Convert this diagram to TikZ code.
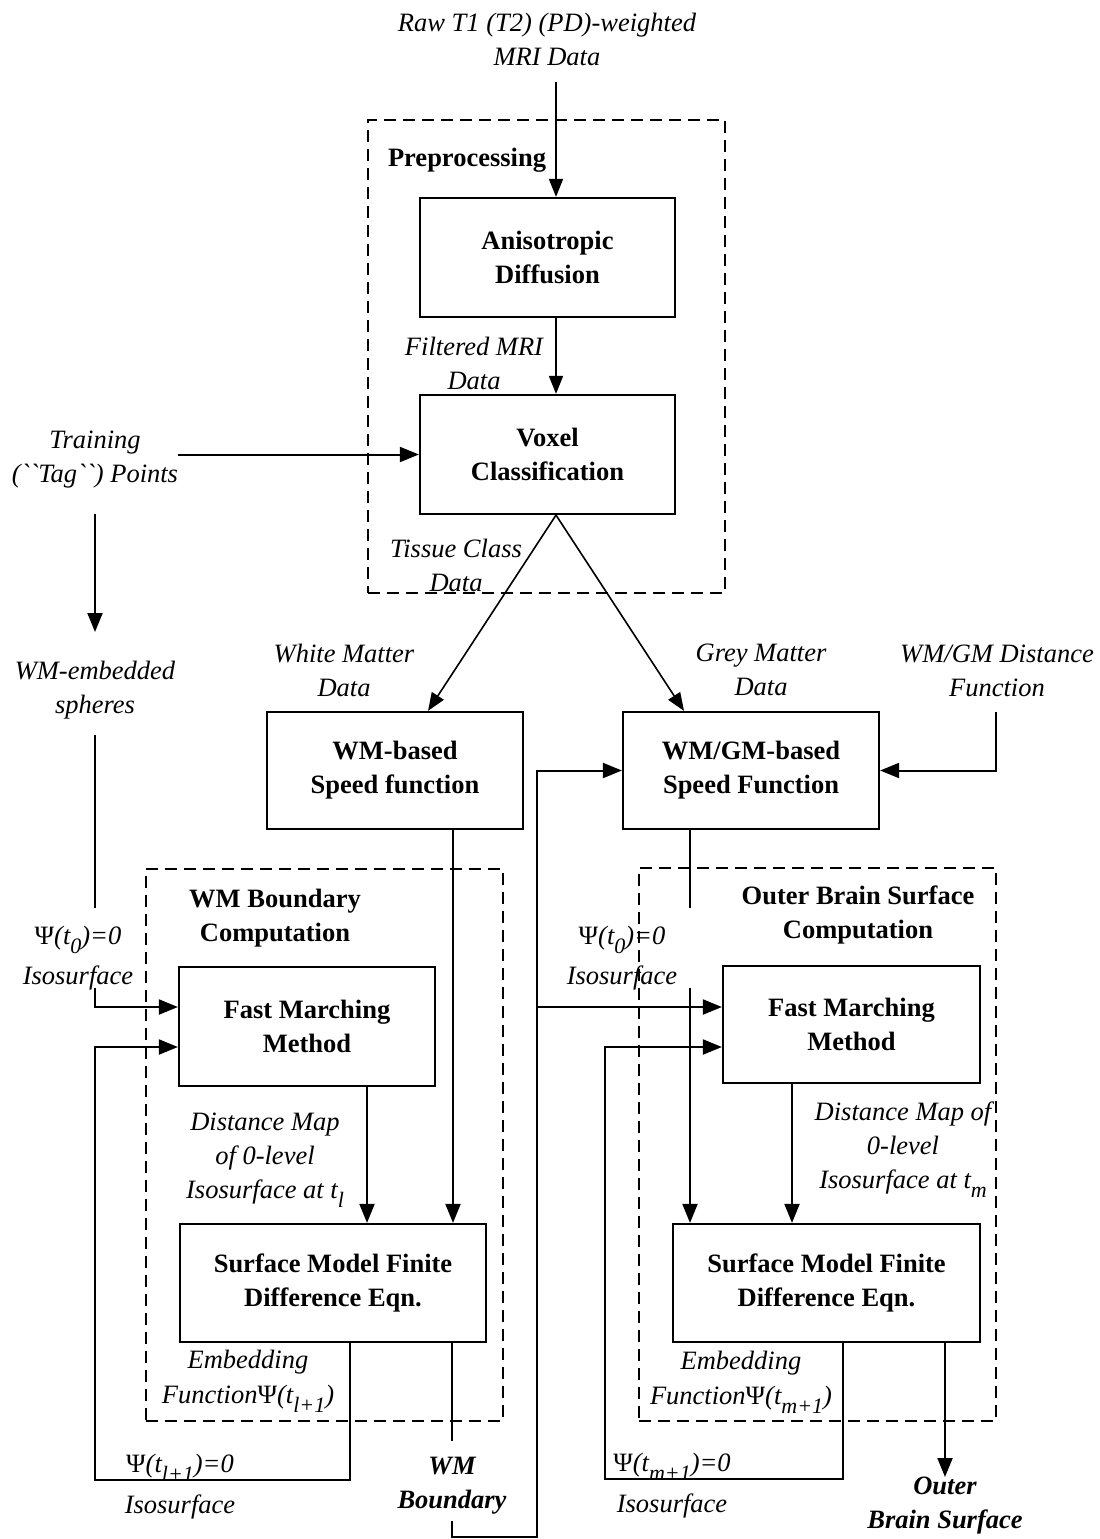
\documentclass[tikz,border=0pt]{standalone}
\usepackage{fontspec}
\setmainfont{Liberation Serif}
\usetikzlibrary{arrows.meta,calc}
\newcommand\lblfont{\fontsize{26.5}{34}\selectfont}
\newcommand\sbs[1]{\raisebox{-9pt}{\fontsize{22}{22}\selectfont #1}}
\begin{document}
\begin{tikzpicture}[x=1pt,y=-1pt,
  box/.style={draw, line width=2.2pt, font=\lblfont\bfseries, align=center, inner sep=0pt},
  lbl/.style={font=\lblfont\itshape, align=center, inner sep=0pt},
  outlbl/.style={font=\lblfont\bfseries\itshape, align=center, inner sep=0pt},
  ttl/.style={font=\lblfont\bfseries, align=center, inner sep=0pt},
  grp/.style={draw, line width=1.8pt, dash pattern=on 12pt off 7pt, inner sep=0pt},
  ln/.style={line width=2pt},
  thinln/.style={line width=1.5pt},
  arr/.style={line width=2pt, -{Triangle[length=19pt,width=15pt]}},
  thinarr/.style={line width=1.6pt, -{Triangle[length=18pt,width=14pt]}}
]
\fill[white] (0,0) rectangle (1100,1539);
\useasboundingbox (0,0) rectangle (1100,1539);

% groups
\node[grp, minimum width=357pt, minimum height=473pt] (prep) at (546.5,356.5) {};
\node[grp, minimum width=357pt, minimum height=552pt] (wmgrp) at (324.5,1145) {};
\node[grp, minimum width=357pt, minimum height=553pt] (obsgrp) at (817.5,1144.5) {};

% titles
\node[ttl] (preptl) at (467,160) {Preprocessing};
\node[ttl] (wmtl) at (275,918) {WM Boundary\\Computation};
\node[ttl] (obstl) at (858,915) {Outer Brain Surface\\Computation};

% boxes
\node[box, minimum width=255pt, minimum height=119pt] (aniso) at (547.5,257.5) {Anisotropic\\Diffusion};
\node[box, minimum width=255pt, minimum height=119pt] (voxel) at (547.5,454.5) {Voxel\\Classification};
\node[box, minimum width=256pt, minimum height=117pt] (wmsp) at (395,770.5) {WM-based\\Speed function};
\node[box, minimum width=256pt, minimum height=117pt] (gmsp) at (751,770.5) {WM/GM-based\\Speed Function};
\node[box, minimum width=256pt, minimum height=119pt] (fmmL) at (307,1026.5) {Fast Marching\\Method};
\node[box, minimum width=306pt, minimum height=118pt] (smL) at (333,1283) {Surface Model Finite\\Difference Eqn.};
\node[box, minimum width=257pt, minimum height=117pt] (fmmR) at (851.5,1024.5) {Fast Marching\\Method};
\node[box, minimum width=307pt, minimum height=118pt] (smR) at (826.5,1283) {Surface Model Finite\\Difference Eqn.};

% labels
\node[lbl] (raw) at (547,39.5) {Raw T1 (T2) (PD)-weighted\\MRI Data};
\node[lbl] (filt) at (474,363) {Filtered MRI\\Data};
\node[lbl] (train) at (95,459.5) {Training\\(\textasciigrave\textasciigrave Tag\textasciigrave\textasciigrave) Points};
\node[lbl] (tissue) at (456,565.5) {Tissue Class\\Data};
\node[lbl] (wmd) at (344,670) {White Matter\\Data};
\node[lbl] (gmd) at (761,670) {Grey Matter\\Data};
\node[lbl] (dist) at (997,670.5) {WM/GM Distance\\Function};
\node[lbl] (wmemb) at (95,690) {WM-embedded\\spheres};
\node[lbl] (psiL) at (78,958) {{\upshape Ψ}(t\sbs{0})=0\\[6pt]Isosurface};
\node[lbl] (psiR) at (622,958) {{\upshape Ψ}(t\sbs{0})=0\\[6pt]Isosurface};
\node[lbl] (distL) at (265,1160) {Distance Map\\of 0-level\\Isosurface at t\sbs{l}};
\node[lbl] (distR) at (903,1150) {Distance Map of\\0-level\\Isosurface at t\sbs{m}};
\node[lbl] (embL) at (248,1381) {Embedding\\[1pt]Function{\upshape Ψ}(t\sbs{l+1})};
\node[lbl] (embR) at (741,1382) {Embedding\\[1pt]Function{\upshape Ψ}(t\sbs{m+1})};
\node[lbl] (psiL2) at (180,1487) {{\upshape Ψ}(t\sbs{l+1})=0\\[7pt]Isosurface};
\node[lbl] (psiR2) at (672,1486) {{\upshape Ψ}(t\sbs{m+1})=0\\[7pt]Isosurface};
\node[outlbl] (wmbl) at (452,1486) {WM\\Boundary};
\node[outlbl] (obsl) at (945,1506) {Outer\\Brain Surface};

% helper coordinates
\coordinate (cA) at (556,0);
\coordinate (r1) at (556,82);
\coordinate (xL) at (428,0);
\coordinate (xR) at (684,0);
\coordinate (x453) at (453,0);
\coordinate (x690) at (690,0);
\coordinate (x367) at (367,0);
\coordinate (x350) at (350,0);
\coordinate (x452) at (452,0);
\coordinate (x792) at (792,0);
\coordinate (x843) at (843,0);
\coordinate (x945) at (945,0);
\coordinate (t1) at (95,514);
\coordinate (t2) at (95,632);
\coordinate (e1) at (95,735);
\coordinate (e2) at (95,908);
\coordinate (e3) at (95,988);
\coordinate (g1) at (690,908);
\coordinate (g2) at (690,988);
\coordinate (d1) at (996,712);
\coordinate (lp1) at (95,1480);
\coordinate (lp2) at (605,1479);
\coordinate (w1) at (452,1441);
\coordinate (w2) at (452,1521);
\coordinate (c537) at (537,1537);
\coordinate (j537) at (537,1007);
\coordinate (o1) at (945,1477);

% connectors
\draw[thinarr] (r1) -- (aniso.north -| cA);
\draw[thinarr] (aniso.south -| cA) -- (voxel.north -| cA);
\draw[arr] (train.east |- voxel.west) -- (voxel.west);
\draw[arr] (t1) -- (t2);
\draw[thinarr] (voxel.south -| cA) -- (wmsp.north -| xL);
\draw[thinarr] (voxel.south -| cA) -- (gmsp.north -| xR);
\draw[arr] (wmsp.south -| x453) -- (smL.north -| x453);
\draw[ln] (gmsp.south -| x690) -- (g1);
\draw[arr] (g2) -- (smR.north -| x690);
\draw[arr] (d1) |- (gmsp.east);
\draw[ln] (e1) -- (e2);
\draw[arr] (e3) |- ([yshift=19.5pt]fmmL.west);
\draw[arr] (fmmL.south -| x367) -- (smL.north -| x367);
\draw[arr] (smL.south -| x350) |- (lp1) |- ([yshift=-20.5pt]fmmL.west);
\draw[thinln] (smL.south -| x452) -- (w1);
\draw[arr] (w2) |- (c537) |- (gmsp.west);
\draw[arr] (j537) -- (j537 -| fmmR.west);
\draw[arr] (fmmR.south -| x792) -- (smR.north -| x792);
\draw[arr] (smR.south -| x843) |- (lp2) |- ([yshift=-22.5pt]fmmR.west);
\draw[arr] (smR.south -| x945) -- (o1);
\end{tikzpicture}
\end{document}
